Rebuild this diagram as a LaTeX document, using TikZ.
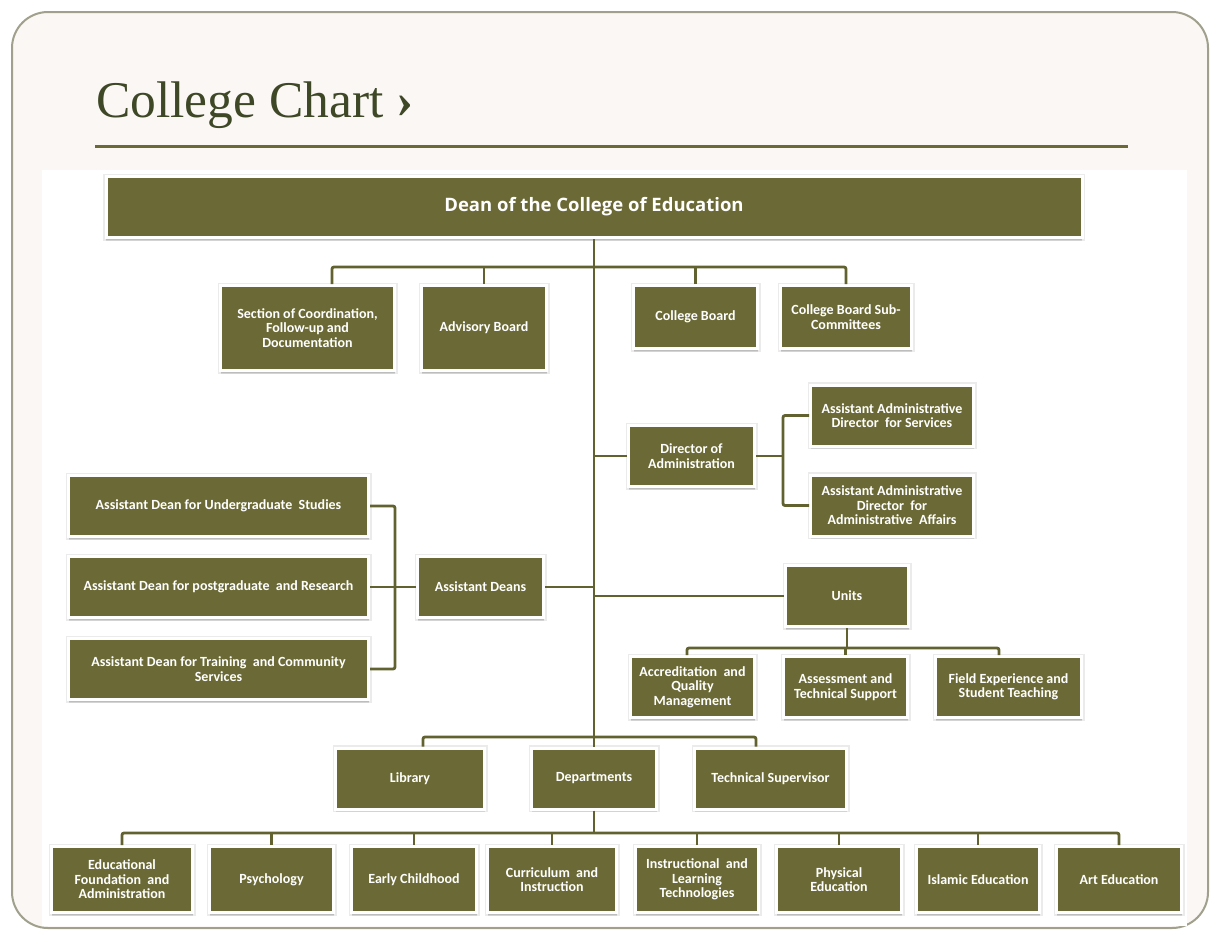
\documentclass[tikz,border=0pt]{standalone}
\usepackage{fontspec}
\setmainfont{Liberation Serif}
\newfontfamily\boxfont{Carlito}
\newfontfamily\headfont{Open Sans}
\usetikzlibrary{shadows}

\definecolor{olive}{RGB}{107,106,54}
\definecolor{olivedark}{RGB}{98,98,48}
\definecolor{titlegreen}{RGB}{62,72,38}
\definecolor{pagebg}{RGB}{250,247,245}
\definecolor{framegray}{RGB}{160,160,140}

\tikzset{
  box/.style={rectangle, fill=olive, draw=white, line width=3pt,
    text=white, align=center, inner sep=2pt,
    font=\boxfont\bfseries\fontsize{14}{14.5}\selectfont,
    preaction={draw=black!8, line width=6pt},
    general shadow={shadow xshift=0pt, shadow yshift=-3.2pt,
      fill=black, opacity=0.10},
    general shadow={shadow xshift=0pt, shadow yshift=-2pt,
      fill=black, opacity=0.10}},
  headbox/.style={box, font=\headfont\bfseries\fontsize{18.5}{20}\selectfont},
  link/.style={draw=olivedark, line width=2.8pt, rounded corners=2pt}
}

% box with olive area w x h centred at (cx,cy)
\newcommand{\orgbox}[7][box]{%
  \node[#1, minimum width=#5pt+3pt, minimum height=#6pt+3pt] (#2) at (#3,#4) {#7};}

\begin{document}
\begin{tikzpicture}[x=1pt,y=-1pt]
\useasboundingbox (0,0) rectangle (1210,930);

% page frame, title and chart panel
\fill[white] (0,0) rectangle (1210,930);
\draw[framegray, fill=pagebg, line width=2pt, rounded corners=36pt]
  (12,12) rectangle (1208,928);
\fill[white] (42,170) rectangle (1187,926);
\node[anchor=base west, inner sep=0pt, text=titlegreen,
      font=\fontsize{51.5}{56}\selectfont] (title) at (96,117)
      {College Chart \textbf{›}};
\draw[olive, line width=3pt] (95,146) -- (1128,146);

% dean
\orgbox[headbox]{dean}{594}{207}{973}{58}{Dean of the College of Education}

% first row
\orgbox{sec}{307.5}{328}{171}{82}{Section of Coordination,\\Follow-up and\\Documentation}
\orgbox{adv}{484}{328}{122}{82}{Advisory Board}
\orgbox{cb}{695.5}{317}{121}{60}{College Board}
\orgbox{sub}{846}{317}{128}{60}{College Board Sub-\\Committees}

% administration branch
\orgbox{dir}{691.5}{456}{123}{58}{Director of\\Administration}
\orgbox{serv}{892}{415.5}{160}{58}{Assistant Administrative\\Director\ \ for Services}
\orgbox{aff}{892}{505.5}{160}{58}{Assistant Administrative\\Director\ \ for\\Administrative\ \ Affairs}

% assistant deans branch
\orgbox{ug}{218.5}{506}{297}{58}{Assistant Dean for Undergraduate\ \ Studies}
\orgbox{pg}{218.5}{587}{297}{58}{Assistant Dean for postgraduate\ \ and Research}
\orgbox{tr}{218.5}{669}{297}{58}{Assistant Dean for Training\ \ and Community\\Services}
\orgbox{ad}{480.5}{587}{123}{58}{Assistant Deans}

% units branch
\orgbox{units}{847}{596}{120}{58}{Units}
\orgbox{accr}{692.5}{687}{121}{58}{Accreditation\ \ and\\Quality\\Management}
\orgbox{assess}{845.5}{687}{121}{58}{Assessment and\\Technical Support}
\orgbox{field}{1008.5}{687}{143}{58}{Field Experience and\\Student Teaching}

% lower row
\orgbox{lib}{410}{778.5}{146}{58}{Library}
\orgbox{dept}{594}{778.5}{122}{58}{Departments}
\orgbox{tech}{770.5}{778.5}{149}{58}{Technical Supervisor}

% departments
\orgbox{edf}{122}{879.5}{138}{63}{Educational\\Foundation\ \ and\\Administration}
\orgbox{psy}{271.5}{879.5}{121}{63}{Psychology}
\orgbox{early}{414}{879.5}{122}{63}{Early Childhood}
\orgbox{curr}{552}{879.5}{126}{63}{Curriculum\ \ and\\Instruction}
\orgbox{instr}{697}{879.5}{120}{63}{Instructional\ \ and\\Learning\\Technologies}
\orgbox{phys}{839}{879.5}{122}{63}{Physical\\Education}
\orgbox{isl}{978}{879.5}{120}{63}{Islamic Education}
\orgbox{art}{1119}{879.5}{122}{63}{Art Education}

% bus levels and branch points
\coordinate (topbus) at (332,267);
\coordinate (topend) at (846,267);
\coordinate (adminbr) at (783,0);
\coordinate (deansbr) at (395,0);
\coordinate (unitsbus) at (0,648);
\coordinate (accrdrop) at (687,648);
\coordinate (fielddrop) at (999,648);
\coordinate (lowbus) at (423,737);
\coordinate (lowend) at (756,737);
\coordinate (deptbus) at (0,833);

% main spine
\draw[link] (dean.south) -- (dept.north);
% first row
\draw[link] (topbus |- sec.north) -- (topbus) -- (topend) -- (sub.north);
\draw[link] (adv.north) -- (adv.north |- topbus);
\draw[link] (cb.north) -- (cb.north |- topbus);
% administration
\draw[link] (dir.west) -- (dir.west -| dean.south);
\draw[link] (dir.east) -- (dir.east -| adminbr);
\draw[link] (serv.west) -- (serv.west -| adminbr) -- (aff.west -| adminbr) -- (aff.west);
% assistant deans
\draw[link] (ad.east) -- (ad.east -| dean.south);
\draw[link] (ug.east) -- (ug.east -| deansbr) -- (tr.east -| deansbr) -- (tr.east);
\draw[link] (pg.east) -- (ad.west);
% units
\draw[link] (units.west) -- (units.west -| dean.south);
\draw[link] (units.south) -- (units.south |- unitsbus);
\draw[link] (accrdrop |- accr.north) -- (accrdrop) -- (fielddrop) -- (fielddrop |- field.north);
\draw[link] (assess.north) -- (assess.north |- unitsbus);
% library, departments, technical supervisor
\draw[link] (lowbus |- lib.north) -- (lowbus) -- (lowend) -- (lowend |- tech.north);
% departments row
\draw[link] (dept.south) -- (dept.south |- deptbus);
\draw[link] (edf.north) -- (edf.north |- deptbus) -- (art.north |- deptbus) -- (art.north);
\foreach \d in {psy,early,curr,instr,phys,isl}
  \draw[link] (\d.north) -- (\d.north |- deptbus);
\end{tikzpicture}
\end{document}
